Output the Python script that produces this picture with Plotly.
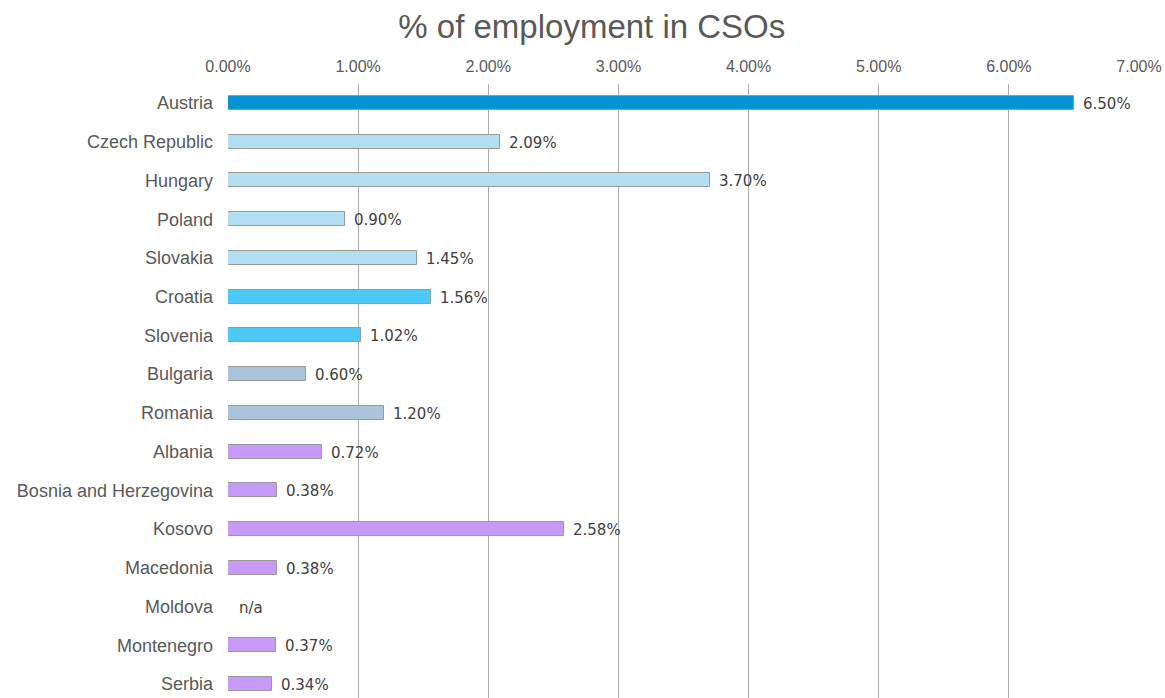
import plotly.graph_objects as go

countries = ["Austria", "Czech Republic", "Hungary", "Poland", "Slovakia", "Croatia",
             "Slovenia", "Bulgaria", "Romania", "Albania", "Bosnia and Herzegovina",
             "Kosovo", "Macedonia", "Moldova", "Montenegro", "Serbia"]
values = [6.50, 2.09, 3.70, 0.90, 1.45, 1.56, 1.02, 0.60, 1.20, 0.72, 0.38, 2.58, 0.38, None, 0.37, 0.34]
labels = ["6.50%", "2.09%", "3.70%", "0.90%", "1.45%", "1.56%", "1.02%", "0.60%", "1.20%",
          "0.72%", "0.38%", "2.58%", "0.38%", "n/a", "0.37%", "0.34%"]
groups = ["AT", "V4", "V4", "V4", "V4", "EU13", "EU13", "EU07", "EU07",
          "WB", "WB", "WB", "WB", "WB", "WB", "WB"]
group_colors = {"AT": "#0392D2", "V4": "#B4DEF1", "EU13": "#4CC9F6",
                "EU07": "#AAC5DB", "WB": "#C69AF6"}
tick_vals = [0, 1, 2, 3, 4, 5, 6, 7]
tick_text = ["0.00%", "1.00%", "2.00%", "3.00%", "4.00%", "5.00%", "6.00%", "7.00%"]

fig = go.Figure()
fig.add_trace(go.Bar(
    y=countries, x=values, orientation="h",
    marker=dict(color=[group_colors[g] for g in groups],
                line=dict(color="#9A9A9A", width=1)),
    width=0.36, hoverinfo="skip"))

for c, v, t in zip(countries, values, labels):
    fig.add_annotation(x=v if v is not None else 0, y=c, text=t, showarrow=False,
                       xanchor="left", yanchor="middle", xshift=7 if v is not None else 9, yshift=-1,
                       font=dict(family="DejaVu Sans", size=15, color="#404040"))

fig.update_layout(
    width=1165, height=698,
    margin=dict(l=228, r=26, t=84, b=0),
    paper_bgcolor="white", plot_bgcolor="white",
    showlegend=False, bargap=0,
    title=dict(text="% of employment in CSOs", x=0.508, xanchor="center", y=0.962, yanchor="middle",
               font=dict(family="Liberation Sans, Arial", size=33, color="#595959")),
    xaxis=dict(side="top", range=[0, 7], tickvals=tick_vals, ticktext=tick_text,
               showgrid=True, gridcolor="#ABABAB", gridwidth=1, zeroline=False,
               showline=False, ticks="", ticklabelstandoff=8,
               tickfont=dict(family="Liberation Sans, Arial", size=16, color="#595959")),
    yaxis=dict(type="category", range=[15.36, -0.49], showgrid=False, zeroline=False,
               showline=False, ticks="", ticklabelstandoff=14,
               tickfont=dict(family="Liberation Sans, Arial", size=18, color="#595959")),
)
fig.write_html("out.html")
